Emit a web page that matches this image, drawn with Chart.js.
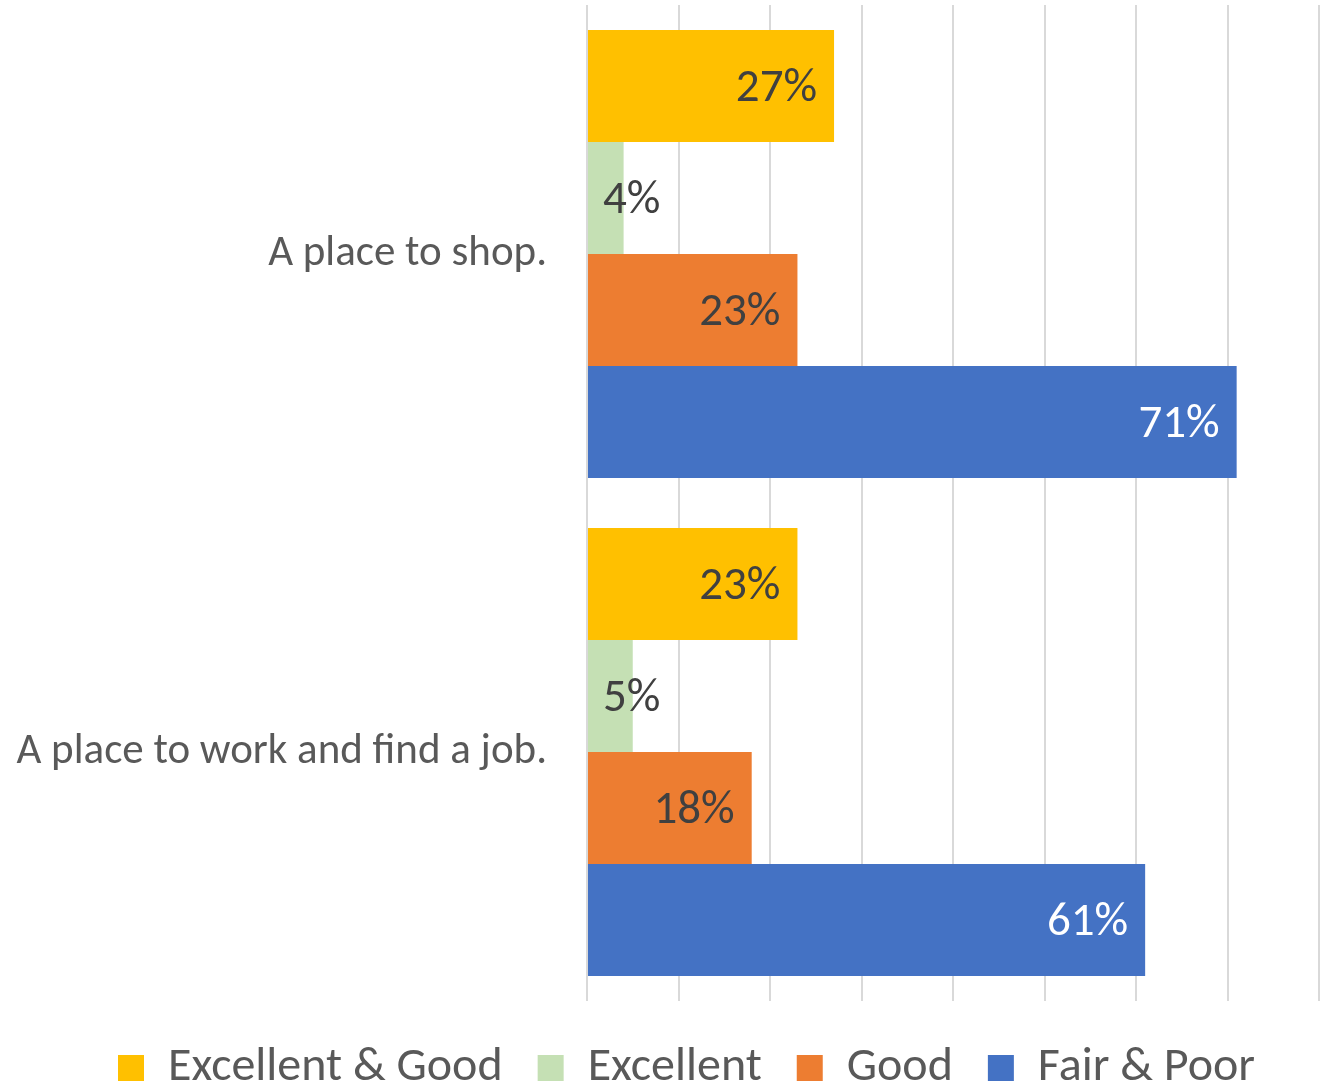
<!DOCTYPE html>
<html>
<head>
<meta charset="utf-8">
<script src="https://cdn.jsdelivr.net/npm/chart.js@4/dist/chart.umd.min.js"></script>
<style>
  html, body { margin: 0; padding: 0; background: #fff; }
  #wrap { width: 1332px; height: 1088px; }
</style>
</head>
<body>
<div id="wrap"><canvas id="chart" width="1332" height="1088"></canvas></div>
<script>
const categories = ['A place to shop.', 'A place to work and find a job.'];
const seriesNames = ['Excellent & Good', 'Excellent', 'Good', 'Fair & Poor'];
const excellentGood = [27, 23];
const excellent = [4, 5];
const good = [23, 18];
const fairPoor = [71, 61];
const xTicks = [0, 10, 20, 30, 40, 50, 60, 70, 80];

const FONT = 'Carlito, Calibri, Lato, sans-serif';
const colors = ['#FFC000', '#C5E0B4', '#ED7D31', '#4472C4'];
const labelColors = ['#404040', '#404040', '#404040', '#ffffff'];

// value labels at the inside end of each bar
const barLabels = {
    id: 'barLabels',
    afterDatasetsDraw(chart) {
        const ctx = chart.ctx;
        ctx.save();
        ctx.font = '47px ' + FONT;
        ctx.textBaseline = 'middle';
        ctx.textAlign = 'left';
        chart.data.datasets.forEach((ds, i) => {
            const meta = chart.getDatasetMeta(i);
            meta.data.forEach((bar, j) => {
                const text = ds.data[j] + '%';
                const w = ctx.measureText(text).width;
                let left = bar.x - 17 - w;
                if (left < bar.base + 15) left = bar.base + 15;
                ctx.fillStyle = labelColors[i];
                ctx.fillText(text, left, bar.y + 3);
            });
        });
        ctx.restore();
    }
};

// move the legend a little, like the original
const legendShift = {
    id: 'legendShift',
    afterLayout(chart) {
        const lg = chart.legend;
        lg.top += 8;
        lg.bottom += 8;
        lg.left += 27;
        lg.right += 27;
    }
};

const ctx = document.getElementById('chart').getContext('2d');
new Chart(ctx, {
    type: 'bar',
    data: {
        labels: categories,
        datasets: [excellentGood, excellent, good, fairPoor].map((d, i) => ({
            label: seriesNames[i],
            data: d,
            backgroundColor: colors[i],
            borderWidth: 0,
            categoryPercentage: 0.9,
            barPercentage: 1.0
        }))
    },
    options: {
        indexAxis: 'y',
        responsive: false,
        animation: false,
        layout: { padding: { top: 5, right: 13, left: 0, bottom: -6 } },
        scales: {
            x: {
                min: xTicks[0],
                max: xTicks[xTicks.length - 1],
                afterBuildTicks: s => { s.ticks = xTicks.map(v => ({ value: v })); },
                ticks: { display: false },
                grid: { color: '#d9d9d9', lineWidth: 2, drawTicks: false },
                border: { display: false },
                afterFit: s => { s.height = 0; s.paddingLeft = 0; s.paddingRight = 0; }
            },
            y: {
                grid: { display: false, drawTicks: false },
                border: { display: false },
                ticks: { color: '#595959', font: { family: FONT, size: 43 }, padding: 40 },
                afterFit: s => { s.width = 587; s.paddingTop = 0; s.paddingBottom = 0; }
            }
        },
        plugins: {
            legend: {
                position: 'bottom',
                labels: {
                    boxWidth: 26,
                    boxHeight: 26,
                    padding: 35,
                    color: '#595959',
                    font: { family: FONT, size: 48 }
                }
            },
            tooltip: { enabled: false }
        }
    },
    plugins: [barLabels, legendShift]
});
</script>
</body>
</html>
